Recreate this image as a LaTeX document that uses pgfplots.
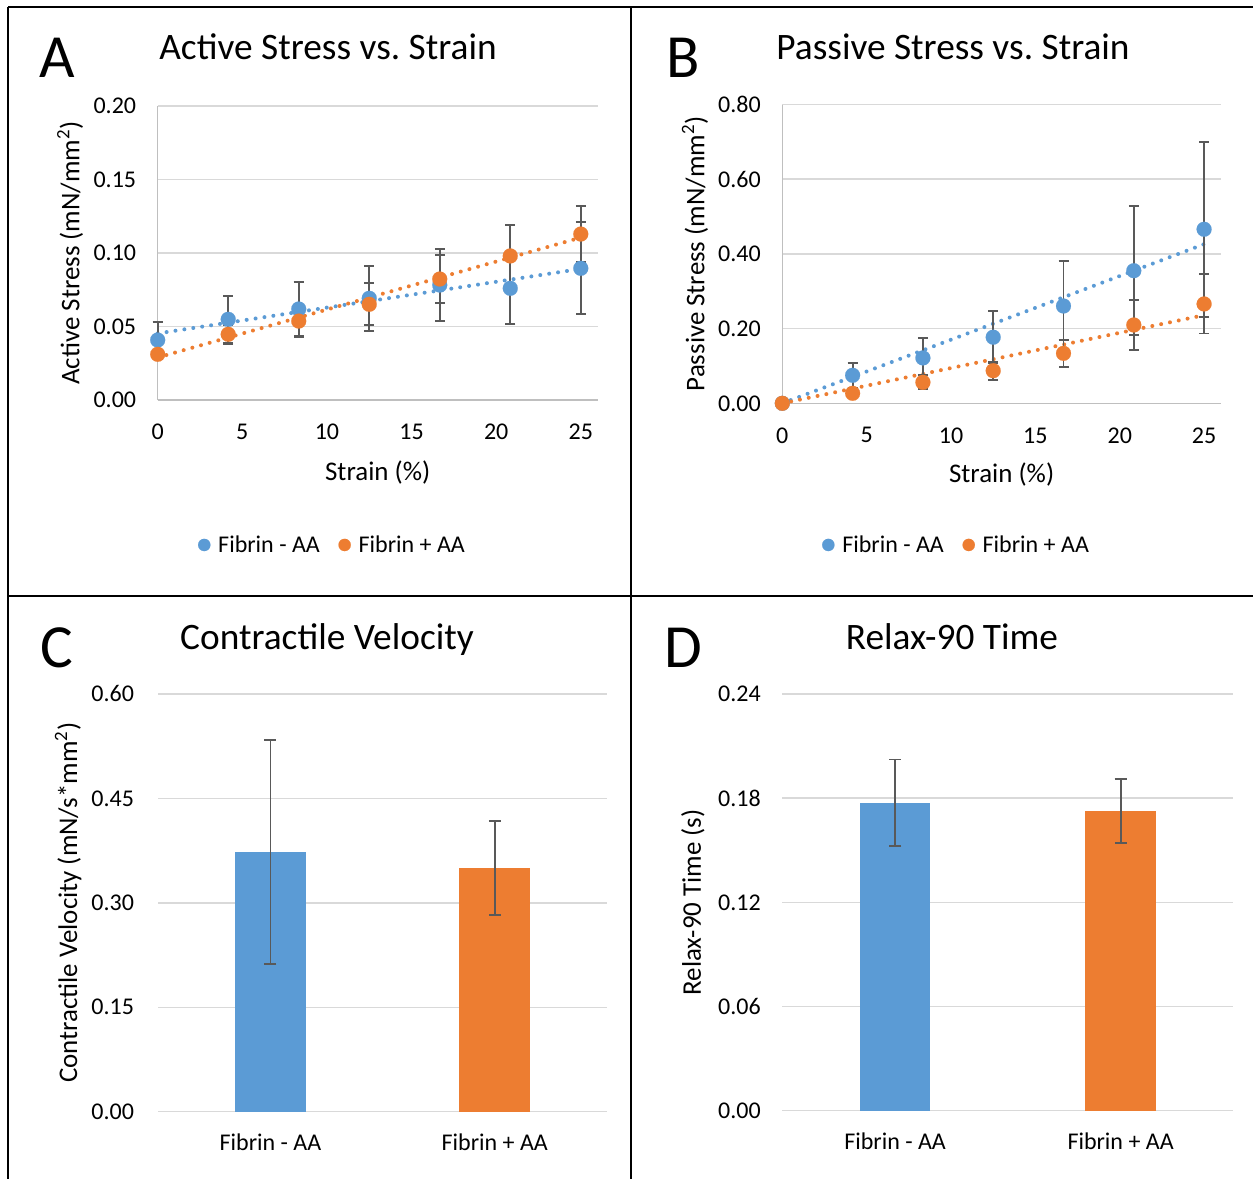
\documentclass[border=0pt]{standalone}
\usepackage{pgfplots}
\pgfplotsset{compat=1.18}
\usepackage{pgfplotstable}
\usepackage{fontspec}
\setmainfont{Carlito}
\frenchspacing
\definecolor{cblue}{HTML}{5B9BD5}
\definecolor{corange}{HTML}{ED7D31}
\definecolor{errgray}{HTML}{595959}
\definecolor{gridgray}{HTML}{D9D9D9}
\definecolor{axgray}{HTML}{BFBFBF}
\newcommand{\tickfont}{\fontsize{18}{21}\selectfont}
\newcommand{\labfont}{\fontsize{20.2}{23}\selectfont}
\newcommand{\legfont}{\fontsize{18}{21}\selectfont}
\newcommand{\titfont}{\fontsize{28}{32}\selectfont}
\newcommand{\letfont}{\fontsize{46}{50}\selectfont}

\pgfplotstableread{
x y e
0 0.0408 0.012
4.1667 0.0549 0.016
8.3333 0.0619 0.0186
12.5 0.0692 0.022
16.6667 0.0782 0.0245
20.8333 0.0760 0.024
25 0.0896 0.0313
}\actblue
\pgfplotstableread{
x y e
0 0.0311 0.003
4.1667 0.0447 0.0066
8.3333 0.0537 0.011
12.5 0.0651 0.0143
16.6667 0.0823 0.0165
20.8333 0.0980 0.021
25 0.1129 0.0193
}\actorange
\pgfplotstableread{
x y e
0 0 0
4.1667 0.075 0.033
8.3333 0.1215 0.0535
12.5 0.177 0.070
16.6667 0.2605 0.120
20.8333 0.355 0.173
25 0.466 0.234
}\pasblue
\pgfplotstableread{
x y e
0 0 0
4.1667 0.0268 0.008
8.3333 0.0562 0.019
12.5 0.0873 0.0245
16.6667 0.1338 0.036
20.8333 0.2097 0.068
25 0.266 0.079
}\pasorange

\pgfplotsset{
  base/.style={
    scale only axis,
    clip=false,
    /pgf/number format/assume math mode=true,
    major tick length=0pt,
    tick style={draw=none},
    ymajorgrids,
    grid style={gridgray, line width=1.1pt},
    axis x line*=bottom, axis y line*=left,
    axis line style={-},
    x axis line style={axgray, line width=1.1pt},
    ticklabel style={font=\tickfont, text=black},
    yticklabel style={anchor=east, inner sep=0pt, xshift=-16pt,
      /pgf/number format/.cd, fixed, fixed zerofill, precision=2, /tikz/.cd},
    xticklabel style={anchor=north, inner sep=0pt, yshift=-18pt},
    label style={font=\labfont, text=black},
  },
  errs/.style={
    draw=none, mark=none, forget plot,
    error bars/.cd, y dir=both, y explicit,
    error bar style={draw=errgray, solid, line width=1.45pt},
    error mark options={draw=errgray, rotate=90, mark size=3.75pt, line width=1.45pt, solid},
  },
  trend/.style={forget plot, line width=3pt, line cap=round, dash pattern=on 0pt off 6.75pt},
  dots/.style={only marks, color=#1, mark=*, mark size=5.6pt,
    mark options={fill=#1, draw=#1, line width=0.1pt}},
  leg/.style={
    legend style={at={#1}, anchor=center, draw=none, fill=none, legend columns=2,
      font=\legfont, /tikz/every even column/.append style={column sep=12pt}},
    legend cell align=left,
    legend image code/.code={\path[draw=none, fill=none] (-4.6pt,-0.1pt) rectangle (8.5pt,0.1pt);
      \draw[##1, mark size=4.6pt] plot coordinates {(0pt,0pt)};},
  },
  bars/.style={
    base, xmin=-0.5, xmax=1.5, xtick={0,1},
    xticklabels={Fibrin - AA, Fibrin + AA},
    xticklabel style={yshift=1.5pt},
    x axis line style={gridgray},
    y axis line style={draw=none},
  },
  barerr/.style={
    ybar, bar width=53pt, bar shift=0pt, fill=#1, draw=none,
    error bars/.cd, y dir=both, y explicit,
    error bar style={draw=errgray, solid, line width=1.45pt},
    error mark options={draw=errgray, rotate=90, mark size=4.5pt, line width=1.45pt, solid},
  },
}

\begin{document}
\begin{tikzpicture}[x=0.75pt,y=0.75pt]
\useasboundingbox (0,0) rectangle (1253,-1179);
\fill[white] (0,0) rectangle (1253,-1179);

% ---------- A ----------
\begin{axis}[base, at={(118.275pt,-300pt)}, anchor=south west,
  width=330pt, height=220.5pt,
  xmin=0, xmax=26, ymin=0, ymax=0.2,
  xtick={0,5,10,15,20,25}, ytick={0,0.05,0.1,0.15,0.2},
  y axis line style={axgray, line width=1.1pt},
  xlabel={Strain (\%)}, ylabel={Active Stress (mN/mm\textsuperscript{2})},
  xlabel style={at={(axis description cs:0.5,-0.245)}, anchor=center},
  ylabel style={at={(axis description cs:-0.199,0.5)}, anchor=center},
  leg={(0.398,-0.493)}]
\addplot[trend, cblue] coordinates {(0,0.0453) (25,0.0892)};
\addplot[trend, corange] coordinates {(0,0.0289) (25,0.1105)};
\addplot[errs] table[x=x, y=y, y error=e] {\actblue};
\addplot[errs] table[x=x, y=y, y error=e] {\actorange};
\addplot[dots=cblue] table[x=x, y=y] {\actblue};
\addplot[dots=corange] table[x=x, y=y] {\actorange};
\legend{Fibrin - AA, Fibrin + AA}
\end{axis}

% ---------- B ----------
\begin{axis}[base, at={(586.725pt,-302.475pt)}, anchor=south west,
  width=329pt, height=224.1pt,
  xmin=0, xmax=26, ymin=0, ymax=0.8,
  xtick={0,5,10,15,20,25}, ytick={0,0.2,0.4,0.6,0.8},
  y axis line style={axgray, line width=1.1pt},
  xlabel={Strain (\%)}, ylabel={Passive Stress (mN/mm\textsuperscript{2})},
  xlabel style={at={(axis description cs:0.5,-0.237)}, anchor=center},
  ylabel style={at={(axis description cs:-0.199,0.5)}, anchor=center},
  leg={(0.398,-0.474)}]
\addplot[trend, cblue] coordinates {(0,0) (25,0.426)};
\addplot[trend, corange] coordinates {(0,0) (25,0.236)};
\addplot[errs] table[x=x, y=y, y error=e] {\pasblue};
\addplot[errs] table[x=x, y=y, y error=e] {\pasorange};
\addplot[dots=cblue] table[x=x, y=y] {\pasblue};
\addplot[dots=corange] table[x=x, y=y] {\pasorange};
\legend{Fibrin - AA, Fibrin + AA}
\end{axis}

% ---------- C ----------
\begin{axis}[bars, at={(118.725pt,-833.775pt)}, anchor=south west,
  width=336.5pt, height=313.3pt,
  ymin=0, ymax=0.6, ytick={0,0.15,0.3,0.45,0.6},
  yticklabel style={xshift=-2pt},
  ylabel={Contractile Velocity (mN/s*mm\textsuperscript{2})},
  ylabel style={at={(axis description cs:-0.201,0.5)}, anchor=center}]
\addplot[barerr=cblue] coordinates {(0,0.3727) +- (0,0.161)};
\addplot[barerr=corange] coordinates {(1,0.350) +- (0,0.067)};
\end{axis}

% ---------- D ----------
\begin{axis}[bars, at={(586.725pt,-833.025pt)}, anchor=south west,
  width=338.3pt, height=312.5pt,
  ymin=0, ymax=0.24, ytick={0,0.06,0.12,0.18,0.24},
  ylabel={Relax-90 Time (s)},
  ylabel style={at={(axis description cs:-0.198,0.5)}, anchor=center}]
\addplot[barerr=cblue] coordinates {(0,0.1774) +- (0,0.0249)};
\addplot[barerr=corange] coordinates {(1,0.1726) +- (0,0.0184)};
\end{axis}

% ---------- titles and letters ----------
\node[font=\titfont, anchor=base] at (328,-59.5) {Active Stress vs. Strain};
\node[font=\titfont, anchor=base] at (953,-59.5) {Passive Stress vs. Strain};
\node[font=\titfont, anchor=base] at (327,-649) {Contractile Velocity};
\node[font=\titfont, anchor=base] at (952,-649) {Relax-90 Time};
\node[font=\letfont, anchor=base] at (57.5,-77) {A};
\node[font=\letfont, anchor=base] at (683,-77) {B};
\node[font=\letfont, anchor=base] at (57,-667) {C};
\node[font=\letfont, anchor=base] at (683,-667) {D};

% ---------- frame ----------
\draw[line width=1.8pt] (8,-7) -- (1253,-7);
\draw[line width=1.8pt] (8,-7) -- (8,-1179);
\draw[line width=1.8pt] (631,-7) -- (631,-1179);
\draw[line width=1.8pt] (8,-596) -- (1253,-596);
\end{tikzpicture}
\end{document}
